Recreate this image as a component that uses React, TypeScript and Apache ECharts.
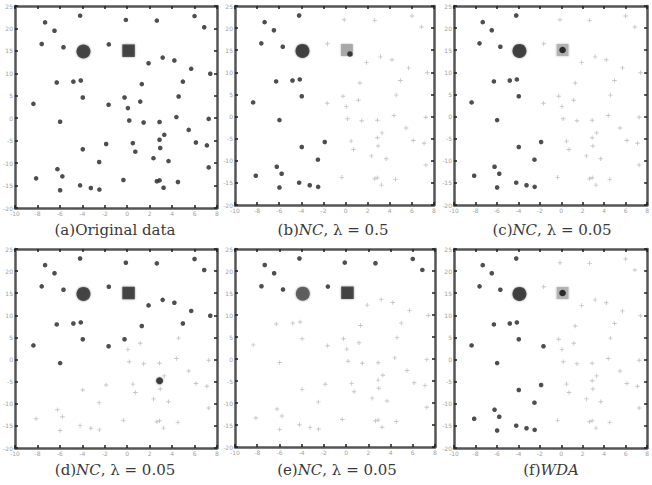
import React, { useEffect, useRef } from "react";
import * as echarts from "echarts";

// ---- data ----
const pointsX = [
  2.90, 4.94, 6.32, 8.00, 1.34, 1.76, 8.43, 1.19, 2.16, 4.18,
  5.95, 6.58, 7.10, 7.85, 8.70, 1.86, 2.60, 2.93, 5.65, 7.48,
  3.02, 0.82, 4.17, 4.88, 5.58, 5.03, 7.29, 2.01, 5.09, 5.73,
  6.44, 7.19, 8.63, 7.74, 6.65, 6.44, 4.06, 5.25, 8.06, 8.55,
  3.02, 5.36, 6.47, 6.17, 3.75, 6.84, 1.89, 8.63, 2.11, 0.94,
  4.83, 6.32, 6.44, 7.26, 2.90, 3.38, 3.76, 2.01, 6.62,
];
const pointsY = [
  8.57, 8.38, 8.35, 8.55, 8.27, 7.90, 8.05, 7.31, 7.16, 7.29,
  6.45, 6.70, 6.57, 6.20, 5.98, 5.59, 5.63, 5.68, 5.52, 5.63,
  4.92, 4.64, 4.60, 4.92, 4.74, 4.45, 4.97, 3.84, 3.90, 3.81,
  3.83, 4.05, 3.97, 3.48, 3.26, 3.04, 2.85, 2.89, 2.92, 2.79,
  2.62, 2.51, 2.67, 2.22, 2.05, 2.09, 1.73, 1.81, 1.41, 1.32,
  1.25, 1.19, 1.23, 1.16, 1.01, 0.89, 0.82, 0.79, 0.90,
];
const bigCircle = [3.05, 6.97];
const bigSquare = [5.06, 7.01];

const darkA = pointsX.map((_, i) => i);
const darkB = [0, 4, 5, 7, 8, 15, 16, 17, 20, 21, 27, 36, 40, 44, 46, 48, 49, 54, 55, 56, 57];
const darkC = [0, 4, 5, 7, 8, 15, 16, 17, 20, 21, 27, 36, 40, 44, 46, 48, 49, 54, 55, 56, 57];
const darkD = [0, 1, 2, 3, 4, 5, 6, 7, 8, 9, 10, 11, 12, 13, 14, 15, 16, 17, 18, 19, 20, 21, 22, 23, 27];
const strongD = [35];
const darkE = [0, 1, 2, 3, 4, 5, 6, 7, 8, 9];
const darkF = [0, 4, 5, 7, 8, 15, 16, 17, 20, 21, 22, 27, 36, 40, 44, 46, 48, 49, 54, 55, 56, 57];

const xTickLabels = ["-10", "-8", "-6", "-4", "-2", "0", "2", "4", "6", "8"];
const yTickLabels = ["-20", "-15", "-10", "-5", "0", "5", "10", "15", "20", "25"];

const captions = [
  "{n|(a)Original data}",
  "{n|(b)}{i|NC}{n|, λ = 0.5}",
  "{n|(c)}{i|NC}{n|, λ = 0.05}",
  "{n|(d)}{i|NC}{n|, λ = 0.05}",
  "{n|(e)}{i|NC}{n|, λ = 0.05}",
  "{n|(f)}{i|WDA}",
];

// ---- layout & styles ----
const panels = [
  { grid: [15, 6, 202, 202], cap: [115, 230], dark: darkA, strong: [], square: "dark", circle: "#2a2a2a" },
  { grid: [235, 6, 199, 199], cap: [333, 230], dark: darkB, strong: [], square: "grayDot", circle: "#262626" },
  { grid: [454, 6, 195, 199], cap: [552, 230], dark: darkC, strong: [], square: "halo", circle: "#262626" },
  { grid: [15, 249, 202, 199], cap: [115, 470], dark: darkD, strong: strongD, square: "dark", circle: "#2a2a2a" },
  { grid: [235, 249, 200, 198], cap: [337, 470], dark: darkE, strong: [], square: "dark", circle: "#4a4a4a" },
  { grid: [454, 249, 195, 199], cap: [551, 470], dark: darkF, strong: [], square: "halo", circle: "#262626" },
];

const plusPath = "path://M4 0h2v4h4v2h-4v4h-2v-4h-4v-2h4z";
const axisLine = { show: true, onZero: false, lineStyle: { color: "#555555", width: 2.5 } };
const axisTick = { show: true, inside: true, length: 3, lineStyle: { color: "#1e1e1e", width: 1.5 } };
const labelStyle = { fontSize: 6, color: "#a0a0a0", fontFamily: "DejaVu Sans" };

export default function App() {
  const ref = useRef<HTMLDivElement>(null);
  useEffect(() => {
    if (!ref.current) return;
    const chart = echarts.init(ref.current, null, { renderer: "svg" });
    const grids: any[] = [];
    const xAxes: any[] = [];
    const yAxes: any[] = [];
    const series: any[] = [];
    const graphics: any[] = [];

    panels.forEach((p, i) => {
      grids.push({ left: p.grid[0], top: p.grid[1], width: p.grid[2], height: p.grid[3] });
      const base = { gridIndex: i, type: "value", min: 0, max: 9, interval: 1, splitLine: { show: false }, axisLine, axisTick };
      xAxes.push({ ...base, position: "bottom", axisLabel: { ...labelStyle, margin: 2, formatter: (v: number) => xTickLabels[Math.round(v)] } });
      xAxes.push({ ...base, position: "top", axisLabel: { show: false } });
      yAxes.push({ ...base, position: "left", axisLabel: { ...labelStyle, margin: 2, formatter: (v: number) => yTickLabels[Math.round(v)] } });
      yAxes.push({ ...base, position: "right", axisLabel: { show: false } });
      const xi = i * 2;
      const yi = i * 2;
      const darkSet = new Set(p.dark);
      const strongSet = new Set(p.strong);
      const light: number[][] = [];
      const dark: number[][] = [];
      const strong: number[][] = [];
      pointsX.forEach((x, k) => {
        const pt = [x, pointsY[k]];
        if (strongSet.has(k)) strong.push(pt);
        else if (darkSet.has(k)) dark.push(pt);
        else light.push(pt);
      });
      const common = { type: "scatter", xAxisIndex: xi, yAxisIndex: yi, silent: true };
      series.push({ ...common, data: light, symbol: plusPath, symbolSize: 4.5, itemStyle: { color: "#b8b8b8" } });
      series.push({
        ...common, data: dark, symbol: "circle", symbolSize: 4.5,
        itemStyle: { color: "#333333", shadowBlur: 1.5, shadowColor: "rgba(0,0,0,0.4)" },
      });
      if (strong.length) {
        series.push({
          ...common, data: strong, symbol: "circle", symbolSize: 7,
          itemStyle: { color: "#1e1e1e", shadowBlur: 2, shadowColor: "rgba(0,0,0,0.5)" },
        });
      }
      // big circle
      series.push({
        ...common, data: [bigCircle], symbol: "circle", symbolSize: 14,
        itemStyle: { color: p.circle, shadowBlur: 2.5, shadowColor: "rgba(0,0,0,0.5)" },
      });
      // big square
      if (p.square === "dark") {
        series.push({
          ...common, data: [bigSquare], symbol: "rect", symbolSize: 12.5,
          itemStyle: { color: "#2a2a2a", shadowBlur: 2.5, shadowColor: "rgba(0,0,0,0.5)" },
        });
      } else if (p.square === "grayDot") {
        series.push({
          ...common, data: [bigSquare], symbol: "rect", symbolSize: 12,
          itemStyle: { color: "#9c9c9c", shadowBlur: 2, shadowColor: "rgba(0,0,0,0.3)" },
        });
        series.push({
          ...common, data: [bigSquare], symbol: "circle", symbolSize: 5.5, symbolOffset: [3, 4],
          itemStyle: { color: "#1e1e1e" },
        });
      } else {
        series.push({
          ...common, data: [bigSquare], symbol: "rect", symbolSize: 12,
          itemStyle: { color: "#a8a8a8", shadowBlur: 2.5, shadowColor: "rgba(0,0,0,0.3)" },
        });
        series.push({
          ...common, data: [bigSquare], symbol: "circle", symbolSize: 6.5,
          itemStyle: { color: "#1a1a1a", shadowBlur: 1.5, shadowColor: "rgba(0,0,0,0.5)" },
        });
      }
      graphics.push({
        type: "text",
        x: p.cap[0],
        y: p.cap[1],
        style: {
          text: captions[i],
          align: "center",
          verticalAlign: "middle",
          fill: "#3a3a3a",
          rich: {
            n: { fontFamily: "DejaVu Serif", fontSize: 15, fill: "#3a3a3a" },
            i: { fontFamily: "DejaVu Serif", fontSize: 15, fontStyle: "italic", fill: "#3a3a3a" },
          },
        },
      });
    });

    chart.setOption({
      animation: false,
      backgroundColor: "#ffffff",
      grid: grids,
      xAxis: xAxes,
      yAxis: yAxes,
      series,
      graphic: graphics,
    });
    return () => chart.dispose();
  }, []);
  return (
    <div
      ref={ref}
      style={{ position: "fixed", left: 0, top: 0, width: 652, height: 485, background: "#fff" }}
    />
  );
}
